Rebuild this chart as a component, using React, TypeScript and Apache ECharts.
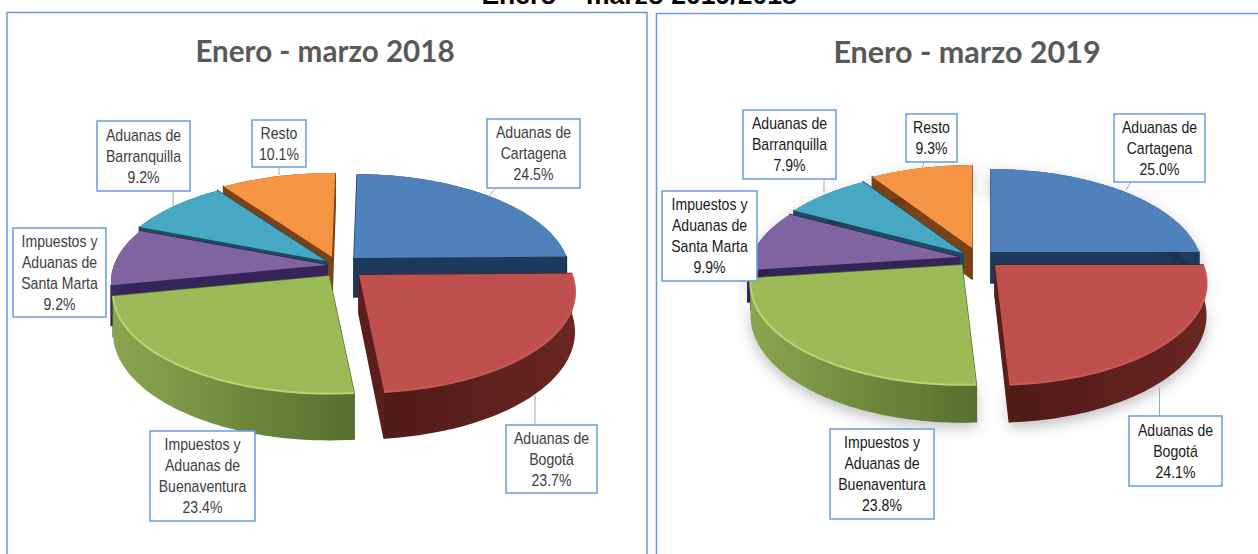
import React, { useEffect, useRef } from "react";
import * as echarts from "echarts";

const categories = [
  "Aduanas de\nCartagena",
  "Aduanas de\nBogotá",
  "Impuestos y\nAduanas de\nBuenaventura",
  "Impuestos y\nAduanas de\nSanta Marta",
  "Aduanas de\nBarranquilla",
  "Resto",
];
const values2018 = [24.5, 23.7, 23.4, 9.2, 9.2, 10.1];
const values2019 = [25.0, 24.1, 23.8, 9.9, 7.9, 9.3];
const mainTitle = "Enero – marzo 2019/2018";
const title2018 = "Enero - marzo 2018";
const title2019 = "Enero - marzo 2019";

const topColors = ["#4f81bd", "#c0504d", "#9bbb59", "#8064a2", "#47a8c4", "#f59443"];
const cutColors = ["#1d3a5c", "#5a1f1c", "#5c7330", "#352458", "#1b4a62", "#7a4216"];
const wallStops = [
  ["#2c4f7c", "#1d3a5c"],
  ["#4f1a18", "#6a2623"],
  ["#8aa54f", "#55702e"],
  ["#3a2a5e", "#352458"],
  ["#1b4a62", "#1b4a62"],
  ["#7a4216", "#7a4216"],
];
const rimColors = ["", "#c85a56", "#b8d575", "", "", ""];
const drawOrder = [5, 4, 3, 0, 2, 1];
const FRAME = "#6a9ade";

const pie2018 = {
  cx: 342, cy: 265, R: 213, Ry: 98, k: 0.1667, drop: 39, shadow: false, start: 1,
  pull: [[12, -7], [17, 10], [-13, 11], [-15, 0], [-16, -4], [-10, -8]],
};
const pie2019 = {
  cx: 980, cy: 257, R: 208, Ry: 98, k: 0.182, drop: 31, shadow: true, start: 0,
  pull: [[11, -5], [15, 8], [-18, 8], [-21, 0], [-17, -4], [-8, -9]],
};

const boxes2018 = [
  [487, 119, 580, 188], [506, 425, 597, 493], [150, 431, 255, 521],
  [13, 228, 106, 317], [97, 121, 190, 191], [252, 120, 306, 167],
];
const boxes2019 = [
  [1114, 114, 1205, 182], [1129, 416, 1222, 486], [830, 429, 934, 519],
  [662, 191, 757, 281], [743, 110, 836, 179], [906, 114, 957, 162],
];
const leaders2018 = [
  [496, 188, 488, 197], [535, 395, 535, 425], [173, 191, 173, 206], [279, 167, 279, 175],
];
const leaders2019 = [
  [1131, 182, 1126, 190], [1159.5, 388, 1159.5, 416], [824, 179, 824, 192], [924, 162, 922, 168],
];

function pieSeries(values: number[], pie: any) {
  const total = values.reduce((a, b) => a + b, 0);
  const cum: number[] = [0];
  values.forEach((v) => cum.push(cum[cum.length - 1] + v));
  const project = (i: number, deg: number, drop: number) => {
    const a = (deg * Math.PI) / 180;
    const w = 1 / (1 + pie.k * Math.cos(a));
    return [
      pie.cx + pie.pull[i][0] + pie.R * Math.sin(a) * w,
      pie.cy + pie.pull[i][1] - pie.Ry * Math.cos(a) * w + drop * w,
    ];
  };
  const apex = (i: number, drop: number) => [
    pie.cx + pie.pull[i][0],
    pie.cy + pie.pull[i][1] + drop,
  ];
  return {
    type: "custom",
    coordinateSystem: "none",
    silent: true,
    z: 2,
    data: drawOrder.map((i) => values[i]),
    renderItem: (params: any) => {
      const i = drawOrder[params.dataIndex];
      const a0 = pie.start + (cum[i] / total) * 360;
      const a1 = pie.start + (cum[i + 1] / total) * 360;
      const steps = Math.max(8, Math.round(a1 - a0));
      const rim: number[][] = [];
      const base: number[][] = [];
      for (let s = 0; s <= steps; s++) {
        const d = a0 + ((a1 - a0) * s) / steps;
        rim.push(project(i, d, 0));
        base.push(project(i, d, pie.drop));
      }
      const cut = (n: number) => ({
        type: "polygon",
        shape: {
          points: [
            apex(i, 0),
            n === 0 ? rim[0] : rim[steps],
            n === 0 ? base[0] : base[steps],
            apex(i, pie.drop),
          ],
        },
        style: { fill: cutColors[i], stroke: cutColors[i], lineWidth: 1.5 },
      });
      const children: any[] = [cut(0), cut(1)];
      children.push({
        type: "polygon",
        shape: { points: rim.concat(base.slice().reverse()) },
        style: {
          fill: {
            type: "linear", x: 0, y: 0, x2: 1, y2: 0,
            colorStops: [
              { offset: 0, color: wallStops[i][0] },
              { offset: 1, color: wallStops[i][1] },
            ],
          },
          ...(pie.shadow
            ? { shadowBlur: 14, shadowColor: "rgba(0,0,0,0.25)", shadowOffsetY: 5 }
            : {}),
        },
      });
      children.push({
        type: "polygon",
        shape: { points: [apex(i, 0)].concat(rim) },
        style: { fill: topColors[i] },
      });
      if (rimColors[i]) {
        children.push({
          type: "polyline",
          shape: { points: rim },
          style: { fill: "none", stroke: rimColors[i], lineWidth: 2 },
        });
      }
      return { type: "group", children };
    },
  };
}

function labelElements(values: number[], boxes: number[][], leaders: number[][], color: string) {
  const out: any[] = [];
  leaders.forEach((l) => {
    out.push({
      type: "line",
      z: 20,
      shape: { x1: l[0], y1: l[1], x2: l[2], y2: l[3] },
      style: { stroke: "#a6a6a6", lineWidth: 1 },
    });
  });
  categories.forEach((c, i) => {
    const b = boxes[i];
    out.push({
      type: "rect",
      z: 21,
      shape: { x: b[0], y: b[1], width: b[2] - b[0], height: b[3] - b[1] },
      style: { fill: "#ffffff", stroke: FRAME, lineWidth: 1.5 },
    });
    out.push({
      type: "text",
      z: 22,
      x: (b[0] + b[2]) / 2,
      y: (b[1] + b[3]) / 2,
      scaleX: 0.88,
      style: {
        text: `${c}\n${values[i].toFixed(1)}%`,
        align: "center",
        verticalAlign: "middle",
        fill: color,
        font: '16px "Liberation Sans", sans-serif',
        lineHeight: 21,
      },
    });
  });
  return out;
}

export default function App() {
  const ref = useRef<HTMLDivElement>(null);
  useEffect(() => {
    const chart = echarts.init(ref.current!, undefined, { renderer: "svg" });
    const sub = {
      color: "#595959",
      fontFamily: "Lato, 'Open Sans', sans-serif",
      fontWeight: "bold" as const,
    };
    chart.setOption({
      animation: false,
      backgroundColor: "#ffffff",
      title: [
        {
          text: mainTitle,
          left: 634, top: -24, textAlign: "center",
          textStyle: { color: "#000", fontFamily: "Liberation Sans", fontWeight: "bold", fontSize: 26.5 },
        },
        { text: title2018, left: 320, top: 30, textAlign: "center", textStyle: { ...sub, fontSize: 29.6 } },
        { text: title2019, left: 962, top: 30, textAlign: "center", textStyle: { ...sub, fontSize: 30.5 } },
      ],
      graphic: {
        elements: [
          {
            type: "rect", z: 1,
            shape: { x: 7, y: 12.5, width: 640, height: 560 },
            style: { fill: "none", stroke: FRAME, lineWidth: 1.5 },
          },
          {
            type: "rect", z: 1,
            shape: { x: 656.5, y: 13.5, width: 640, height: 560 },
            style: { fill: "none", stroke: FRAME, lineWidth: 1.5 },
          },
          ...labelElements(values2018, boxes2018, leaders2018, "#404040"),
          ...labelElements(values2019, boxes2019, leaders2019, "#1a1a1a"),
        ],
      },
      series: [pieSeries(values2018, pie2018), pieSeries(values2019, pie2019)],
    });
    return () => chart.dispose();
  }, []);
  return (
    <div
      ref={ref}
      style={{ position: "fixed", left: 0, top: 0, width: 1258, height: 554, overflow: "hidden" }}
    />
  );
}
